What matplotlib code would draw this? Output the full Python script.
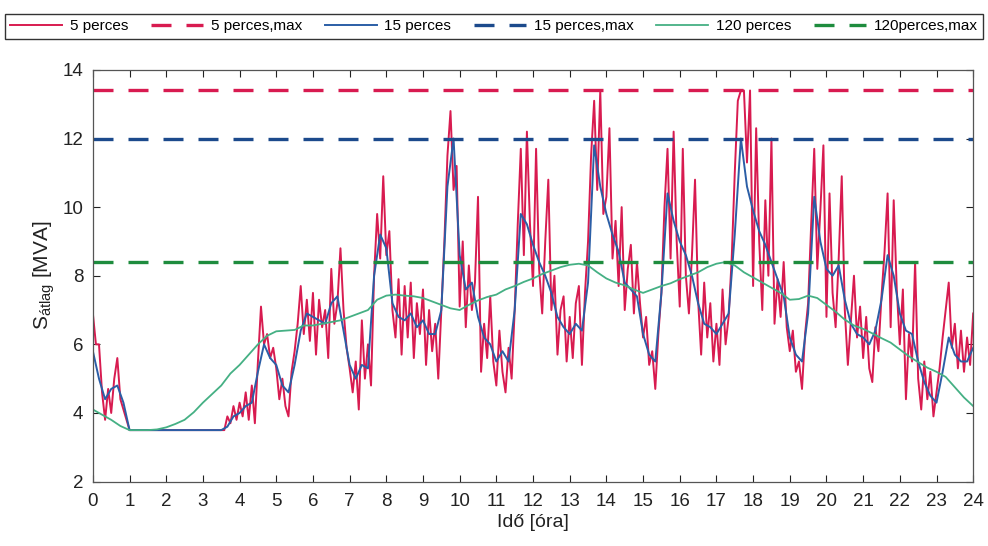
import numpy as np
import matplotlib
matplotlib.use("Agg")
import matplotlib.pyplot as plt

plt.rcParams["font.family"] = ["Liberation Sans", "DejaVu Sans"]
plt.rcParams["mathtext.fontset"] = "custom"
plt.rcParams["mathtext.rm"] = "Liberation Sans"
plt.rcParams["mathtext.it"] = "Liberation Sans"

# ------------------------------------------------------------------
# Data (MVA)
# ------------------------------------------------------------------

# 5 perces, one value every 5 minutes, 0..24 h
s5 = [
    6.9, 6.0, 6.0, 4.6, 3.8, 4.7, 4.0, 5.0, 5.6, 4.4, 4.1, 3.8,          # 0
    3.5, 3.5, 3.5, 3.5, 3.5, 3.5, 3.5, 3.5, 3.5, 3.5, 3.5, 3.5,          # 1
    3.5, 3.5, 3.5, 3.5, 3.5, 3.5, 3.5, 3.5, 3.5, 3.5, 3.5, 3.5,          # 2
    3.5, 3.5, 3.5, 3.5, 3.5, 3.5, 3.5, 3.5, 3.9, 3.7, 4.2, 3.8,          # 3
    4.3, 3.9, 4.6, 3.8, 4.8, 3.7, 5.5, 7.1, 6.0, 6.3, 5.6, 5.9,          # 4
    5.3, 4.4, 5.0, 4.2, 3.9, 5.2, 5.8, 6.6, 7.7, 6.3, 7.3, 6.1,          # 5
    7.5, 5.7, 7.3, 6.5, 7.0, 5.6, 8.2, 6.6, 7.2, 8.8, 7.0, 5.9,          # 6
    5.3, 4.6, 5.5, 4.1, 6.7, 5.0, 6.0, 4.8, 8.0, 9.8, 8.5, 10.9,         # 7
    8.6, 9.3, 7.0, 6.2, 7.9, 5.7, 7.7, 6.2, 7.8, 5.6, 7.2, 6.3,          # 8
    7.6, 5.4, 7.0, 5.8, 6.6, 5.0, 7.0, 9.0, 11.5, 12.8, 10.5, 11.2,      # 9
    7.1, 9.0, 6.5, 8.3, 7.0, 7.8, 10.3, 5.2, 6.6, 5.6, 7.4, 5.5,         # 10
    4.8, 6.4, 5.2, 4.6, 5.9, 5.0, 7.0, 9.5, 11.7, 8.6, 12.2, 9.5,        # 11
    7.7, 11.7, 8.2, 6.9, 9.0, 10.8, 7.0, 8.0, 5.7, 7.0, 7.4, 5.5,        # 12
    6.8, 5.6, 7.2, 7.7, 5.4, 7.5, 9.0, 11.5, 13.1, 10.5, 13.4, 9.8,      # 13
    10.3, 12.3, 8.5, 9.6, 7.7, 10.0, 7.0, 8.2, 8.9, 6.9, 8.4, 7.2,       # 14
    6.2, 6.8, 5.4, 5.8, 4.7, 6.3, 7.5, 10.0, 11.7, 8.5, 12.2, 9.0,       # 15
    7.1, 11.7, 8.0, 6.9, 8.6, 10.8, 7.3, 5.7, 7.8, 6.2, 7.2, 5.5,        # 16
    6.6, 5.4, 7.6, 6.0, 6.8, 8.5, 11.0, 13.1, 13.4, 13.4, 11.3, 13.4,    # 17
    7.7, 12.3, 9.0, 7.0, 10.2, 8.0, 12.0, 6.6, 7.9, 6.8, 8.4, 6.5,       # 18
    5.8, 6.4, 5.2, 5.5, 4.7, 6.3, 7.2, 9.5, 11.7, 8.2, 9.9, 11.8,        # 19
    6.8, 10.4, 7.5, 6.5, 8.5, 10.9, 7.0, 5.4, 6.7, 8.0, 6.2, 7.1,        # 20
    5.6, 6.8, 5.3, 4.9, 6.5, 5.8, 7.4, 8.7, 10.4, 6.5, 10.2, 7.6,        # 21
    6.0, 7.6, 4.4, 6.3, 5.5, 8.4, 5.0, 4.1, 5.5, 4.4, 5.2, 3.9,          # 22
    4.6, 5.3, 6.2, 7.0, 7.8, 5.9, 6.6, 5.3, 6.4, 5.2, 6.2, 5.4,          # 23
    6.9,
]

# 15 perces, read every 10 minutes
s15 = [
    5.8, 5.0, 4.4, 4.7, 4.8, 4.3,
    3.5, 3.5, 3.5, 3.5, 3.5, 3.5,
    3.5, 3.5, 3.5, 3.5, 3.5, 3.5,
    3.5, 3.5, 3.5, 3.5, 3.6, 3.9,
    4.0, 4.2, 4.3, 5.2, 6.0, 5.6,
    5.4, 4.8, 4.6, 5.4, 6.4, 6.9,
    6.8, 6.7, 6.6, 7.2, 7.4, 6.4,
    5.4, 5.0, 5.4, 5.3, 8.0, 9.2,
    8.8, 7.2, 6.8, 6.7, 6.9, 6.5,
    6.7, 6.3, 6.3, 7.0, 10.6, 12.0,
    8.6, 7.6, 7.8, 6.8, 6.2, 6.0,
    5.5, 5.8, 5.5, 7.0, 9.8, 9.5,
    8.9, 8.4, 8.0, 7.5, 6.8, 6.5,
    6.3, 6.6, 6.4, 7.8, 11.8, 10.6,
    9.8, 9.2, 8.7, 7.8, 7.6, 7.4,
    6.3, 5.7, 5.5, 7.5, 10.4, 9.6,
    9.0, 8.6, 8.0, 7.2, 6.6, 6.5,
    6.3, 6.6, 6.9, 9.2, 12.0, 10.6,
    9.9, 9.3, 8.9, 8.4, 7.9, 7.4,
    6.2, 5.7, 5.5, 6.9, 10.3, 9.0,
    8.2, 8.0, 8.3, 7.3, 6.6, 6.3,
    6.2, 6.0, 6.4, 7.3, 8.6, 8.0,
    6.9, 6.4, 6.3, 5.5, 4.9, 4.5,
    4.3, 5.2, 6.2, 5.7, 5.5, 5.5,
    5.9,
]

# 120 perces, read every 15 minutes
s120 = [
    4.10, 3.95, 3.80, 3.62, 3.50, 3.50, 3.50, 3.52,
    3.58, 3.68, 3.80, 4.02, 4.30, 4.55, 4.80, 5.15,
    5.40, 5.70, 6.00, 6.25, 6.38, 6.40, 6.42, 6.55,
    6.55, 6.60, 6.65, 6.70, 6.80, 6.90, 7.00, 7.30,
    7.42, 7.45, 7.42, 7.40, 7.35, 7.25, 7.15, 7.05,
    7.00, 7.15, 7.28, 7.38, 7.45, 7.60, 7.70, 7.82,
    7.92, 8.05, 8.15, 8.25, 8.32, 8.35, 8.30, 8.10,
    7.92, 7.80, 7.72, 7.60, 7.50, 7.60, 7.70, 7.78,
    7.90, 8.00, 8.10, 8.25, 8.35, 8.40, 8.30, 8.10,
    7.95, 7.80, 7.65, 7.50, 7.30, 7.32, 7.42, 7.35,
    7.15, 6.95, 6.72, 6.55, 6.45, 6.32, 6.18, 6.05,
    5.85, 5.65, 5.48, 5.32, 5.20, 5.05, 4.75, 4.45,
    4.20,
]

max5 = 13.4
max15 = 12.0
max120 = 8.4

t5 = np.arange(len(s5)) * 5 / 60
t15 = np.arange(len(s15)) * 10 / 60
t120 = np.arange(len(s120)) * 15 / 60

# ------------------------------------------------------------------
# Plot
# ------------------------------------------------------------------

c_red = "#d81b50"
c_blue = "#2b5ea6"
c_navy = "#1c4a8c"
c_green = "#45b084"
c_dgreen = "#1e8c3e"

fig = plt.figure(figsize=(9.88, 5.46), dpi=100)
ax = fig.add_axes([0.094, 0.118, 0.891, 0.754])

dash = (6, 4.5)
ax.plot(t5, s5, color=c_red, lw=1.4, label="5 perces")
ax.axhline(max5, color=c_red, lw=2.4, ls=(0, dash), label="5 perces,max")
ax.plot(t15, s15, color=c_blue, lw=1.4, label="15 perces")
ax.axhline(max15, color=c_navy, lw=2.4, ls=(0, dash), label="15 perces,max")
ax.plot(t120, s120, color=c_green, lw=1.3, label="120 perces")
ax.axhline(max120, color=c_dgreen, lw=2.4, ls=(0, dash), label="120perces,max")

ax.set_xlim(0, 24)
ax.set_ylim(2, 14)
ax.set_xticks(range(0, 25))
ax.set_yticks(range(2, 15, 2))
ax.tick_params(direction="in", top=True, right=True, labelsize=13.5,
               length=5, width=0.8, colors="#222222")
ax.tick_params(axis="x", pad=8)
ax.tick_params(axis="y", pad=7)
for sp in ax.spines.values():
    sp.set_color("#555555")
    sp.set_linewidth(0.9)

ax.set_xlabel("Idő [óra]", fontsize=14, color="#222222", labelpad=3)
ax.set_ylabel(r"S$_{\mathrm{átlag}}$ [MVA]", fontsize=15, color="#222222", labelpad=4)

fig.legend(loc="center", bbox_to_anchor=(0.5, 0.952), ncol=6, fontsize=11,
           frameon=True, fancybox=False, edgecolor="#333333", framealpha=1,
           handlelength=3.4, columnspacing=1.5, handletextpad=0.5,
           borderpad=0.35)

fig.savefig("out.png", dpi=100)
